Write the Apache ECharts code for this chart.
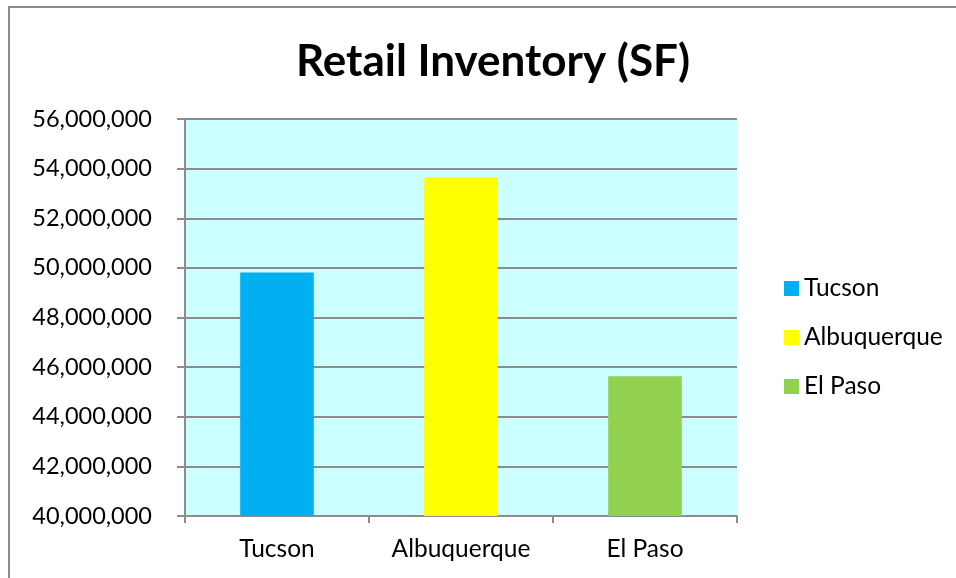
<!DOCTYPE html>
<html>
<head>
<meta charset="utf-8">
<title>Retail Inventory (SF)</title>
<script src="https://cdn.jsdelivr.net/npm/echarts@6/dist/echarts.min.js"></script>
<style>
  html, body { margin: 0; padding: 0; background: #fff; }
  #chart { width: 956px; height: 578px; }
</style>
</head>
<body>
<div id="chart"></div>
<script>
// data
const cities = ['Tucson', 'Albuquerque', 'El Paso']
const inventory = [49810000, 53650000, 45630000]
const cityColors = ['#00b0f0', '#ffff00', '#92d050']
const yTicks = {min: 40000000, max: 56000000, step: 2000000}

const font = 'Lato, "Open Sans", sans-serif'
const grey = '#8c8c8c'

const fmt = v => v.toLocaleString('en-US')

// one series per city so the legend lists each, stacked so bars stay centred
const series = cities.map((name, i) => ({
  name,
  type: 'bar',
  stack: 'all',
  barWidth: '40%',
  itemStyle: {color: cityColors[i]},
  data: cities.map((c, j) => (j === i ? inventory[i] : '-'))
}))

const chart = echarts.init(document.getElementById('chart'))
chart.setOption({
  animation: false,
  title: {
    text: 'Retail Inventory (SF)',
    left: 488,
    top: 35,
    textAlign: 'center',
    textStyle: {fontFamily: font, fontWeight: 'bold', fontSize: 44, color: '#000'}
  },
  legend: {
    orient: 'vertical',
    left: 779,
    top: 271,
    itemWidth: 15,
    itemHeight: 15,
    itemGap: 24,
    icon: 'rect',
    data: cities,
    textStyle: {fontFamily: font, fontSize: 24.5, color: '#000'}
  },
  grid: {left: 185, right: 219, top: 119, bottom: 62, show: true, backgroundColor: '#ccffff', borderWidth: 0},
  xAxis: {
    type: 'category',
    data: cities,
    axisLine: {lineStyle: {color: grey, width: 2}},
    axisTick: {show: true, length: 7, lineStyle: {color: grey, width: 2}},
    axisLabel: {fontFamily: font, fontSize: 24.5, color: '#000', margin: 21}
  },
  yAxis: {
    type: 'value',
    min: yTicks.min,
    max: yTicks.max,
    interval: yTicks.step,
    axisLine: {show: true, lineStyle: {color: grey, width: 2}},
    axisTick: {show: true, length: 8, lineStyle: {color: grey, width: 2}},
    splitLine: {lineStyle: {color: grey, width: 2}},
    axisLabel: {fontFamily: font, fontSize: 23.5, color: '#000', margin: 33, formatter: fmt}
  },
  graphic: [
    {type: 'line', shape: {x1: 9, y1: 6, x2: 9, y2: 578}, style: {stroke: grey, lineWidth: 2}},
    {type: 'line', shape: {x1: 8, y1: 7, x2: 956, y2: 7}, style: {stroke: grey, lineWidth: 2}}
  ],
  series
})
</script>
</body>
</html>
